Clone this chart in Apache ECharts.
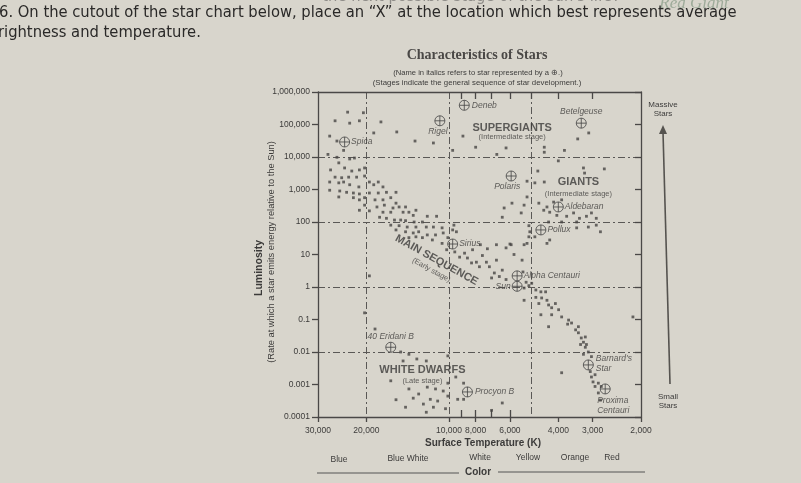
<!DOCTYPE html>
<html><head><meta charset="utf-8">
<script src="https://cdn.jsdelivr.net/npm/echarts@6/dist/echarts.min.js"></script>
<style>html,body{margin:0;padding:0;background:#d8d5cc;}#c{width:801px;height:483px;}</style>
</head><body><div id="c"></div>
<script>
// ---- axis ticks ----
const xLabelTemps = [30000, 20000, 10000, 8000, 6000, 4000, 3000, 2000];
const xInnerTicks = [9000, 8000, 7000, 6000];
const xTopTicks = [9000, 8000, 7000, 6000, 5000, 4000, 3000];
const xGridTemps = [20000, 10000, 5000];
const yTickLabels = ['0.0001','0.001','0.01','0.1','1','10','100','1,000','10,000','100,000','1,000,000'];
const colorNames = ['Blue','Blue White','White','Yellow','Orange','Red'];

// ---- stars: [surface temperature K, luminosity (Sun = 1)] ----
const supergiantDots = [[23400,240000],[20500,230000],[26000,130000],[23000,110000],[21200,130000],[17700,120000],
 [27200,44000],[25600,31000],[18800,55000],[15500,59000],[13300,31000],[11400,27000],[24200,16000],[9700,16000],
 [8900,44000],[8000,20000],[6200,19000],[4500,20000],[4500,14000],[3800,16000],[3400,36000],[3100,55000],[6700,12000],[4000,7600]];
const giantDots = [[4750,3700],[5200,1800],[4870,1600],[4500,1700],[3240,4600],[3210,3200],[2720,4300],[5200,590],
 [6300,270],[5900,380],[5460,190],[6400,140],[5330,330],[4710,380],[4400,290],[4520,230],[4300,200],[4160,410],
 [3890,480],[4050,160],[3730,150],[3520,190],[3350,130],[3160,150],[3030,190],[2910,130],[3430,100],[3890,100],
 [4340,100],[5120,77],[5080,50],[5120,35],[4870,35],[3430,66],[3110,70],[2910,80],[2810,50],[4300,28],[4400,22],
 [5200,22],[6000,21],[5330,20]];
const mainSequenceDots = [[27600,12000],[25600,9800],[23000,8700],[22100,9300],[25200,6600],[27000,4000],[24000,4600],
 [22600,3700],[21200,4000],[20300,4600],[26000,2400],[24600,2300],[23200,2400],[21700,2400],[20300,2600],[19500,1700],
 [18100,1700],[27200,1700],[25200,1600],[24200,1700],[23000,1400],[21300,1200],[18800,1400],[17400,1200],[27200,950],
 [25000,900],[23600,820],[22300,780],[21200,730],[19500,780],[18100,780],[16900,820],[15600,820],[25200,590],[22300,560],
 [21200,480],[20300,560],[18600,480],[17400,480],[16300,560],[15600,380],[20300,330],[18300,290],[17200,330],[16000,270],
 [15200,290],[14400,290],[21200,230],[19500,220],[17400,200],[16300,200],[14700,200],[14000,200],[13200,230],[13500,160],
 [12000,150],[11100,150],[17900,140],[16900,130],[15800,115],[15000,115],[14400,110],[13400,100],[12500,100],[16300,80],
 [15200,77],[14200,70],[13200,70],[12100,70],[11400,70],[10600,66],[15600,57],[14400,50],[13500,46],[12900,50],[12000,40],
 [11200,40],[10500,46],[10100,33],[13200,35],[12500,33],[11500,28],[14000,33],[9700,57],[9600,80],[9400,50],[10600,22],
 [10200,14],[9530,12],[9150,8.3],[8780,11],[8570,7.8],[8210,14],[8280,5.5],[7950,5.8],[7750,4.2],[7560,9.3],[7310,5.8],
 [7130,4.2],[6720,6.7],[6720,20],[6200,16],[5940,20],[5800,10],[5420,6.7],[6400,3.3],[6560,2.1],[7000,1.9],[6840,2.7],
 [6200,1.7],[5380,2.9],[7250,15],[7690,20],[5240,1.4],[5120,1.1],[5330,0.93],[5000,1.3],[4830,0.81],[4630,0.71],
 [4450,0.71],[5330,0.39],[4830,0.48],[4600,0.46],[4400,0.39],[4710,0.31],[4340,0.28],[4100,0.31],[4230,0.23],[3990,0.2],
 [4630,0.14],[4230,0.14],[3890,0.12],[3670,0.096],[3580,0.078],[3380,0.06],[4340,0.06],[3700,0.072],[3460,0.048],
 [3380,0.039],[3300,0.027],[3190,0.029],[3240,0.02],[3160,0.017],[3320,0.017],[3190,0.014],[3110,0.010],[3240,0.0085],
 [3030,0.0072],[3060,0.0025],[3030,0.0017],[2940,0.002],[2990,0.0012],[2860,0.0011],[2940,0.00087],[2790,0.00087],
 [2860,0.00055],[2810,0.00033],[3890,0.0023],[2140,0.12],[19500,2.2],[20300,0.16],[18600,0.051]];
const whiteDwarfDots = [[15000,0.010],[14000,0.0085],[13100,0.0061],[12100,0.0053],[10100,0.0076],[14700,0.0053],
 [16300,0.0013],[10100,0.0011],[9450,0.0017],[8850,0.0011],[14000,0.00073],[12000,0.00083],[11200,0.00073],[10500,0.00063],
 [12900,0.00051],[10100,0.00044],[15600,0.00034],[13500,0.00038],[11700,0.00035],[11000,0.00031],[9300,0.00035],
 [8850,0.00035],[14400,0.0002],[12400,0.00025],[11400,0.0002],[10300,0.00018],[12100,0.00014],[6400,0.00027],[7000,0.00016]];
const starNames = ['Deneb','Betelgeuse','Rigel','Spica','Polaris','Aldebaran','Pollux','Sirius','Alpha Centauri','Sun',
 '40 Eridani B','Procyon B',"Barnard's Star",'Proxima Centauri'];
const starTemps = [8800, 3300, 10800, 24000, 5940, 4000, 4630, 9700, 5650, 5650, 16300, 8570, 3110, 2700];
const starLums = [390000, 110000, 130000, 29000, 2600, 290, 57, 21, 2.2, 1.05, 0.014, 0.00059, 0.0040, 0.00073];
const regionNames = ['SUPERGIANTS','(Intermediate stage)','GIANTS','(Intermediate stage)','MAIN SEQUENCE','(Early stage)','WHITE DWARFS','(Late stage)'];

// ---- build ----
const lg = Math.log10;
const toPt = d => [lg(d[0]), lg(d[1])];
const INK = '#3c3b3a';
const SANS = 'Liberation Sans, Arial, sans-serif';

// label placements (style, not data)
const labelPlace = {
  'Deneb': {position:'right', distance:2},
  'Betelgeuse': {position:'top', distance:2},
  'Rigel': {position:'bottom', distance:1, offset:[-2,0]},
  'Spica': {position:'right', distance:1},
  'Polaris': {position:'bottom', distance:1, offset:[-4,0]},
  'Aldebaran': {position:'right', distance:1},
  'Pollux': {position:'right', distance:1},
  'Sirius': {position:'right', distance:1},
  'Alpha Centauri': {position:'right', distance:1},
  'Sun': {position:'left', distance:1},
  '40 Eridani B': {position:'top', distance:1},
  'Procyon B': {position:'right', distance:2},
  "Barnard's Star": {position:'right', distance:2, text:"Barnard's\nStar", align:'left', lineHeight:10, offset:[0,-1]},
  'Proxima Centauri': {position:'bottom', distance:1, text:'Proxima\nCentauri', align:'left', lineHeight:10, offset:[-8,0]}
};
const starData = starNames.map((n, i) => {
  const p = labelPlace[n] || {position:'right'};
  return {
    value: [lg(starTemps[i]), lg(starLums[i])],
    label: Object.assign({show:true, formatter: p.text || n}, p, {text: undefined})
  };
});

const regionPlace = [
  {t:5890, l:80000, big:true}, {t:5890, l:40000},
  {t:3380, l:1700, big:true}, {t:3380, l:730},
  {t:11100, l:6.7, big:true, rot:-29}, {t:11600, l:3.3, rot:-29},
  {t:12500, l:0.0028, big:true}, {t:12500, l:0.0013}
];
const regionData = regionNames.map((n, i) => {
  const p = regionPlace[i];
  return {
    value: [lg(p.t), lg(p.l)],
    label: {show:true, position:'inside', formatter:n, rotate:p.rot || 0,
      fontFamily:SANS, color:INK,
      fontSize: p.big ? 11 : 7.5, fontWeight: p.big ? 'bold' : 'normal'}
  };
});

const xMin = lg(2000), xMax = lg(30000);
const fmtT = v => Math.round(Math.pow(10, v)).toLocaleString('en-US');
const lineStyle = {color:'#4a4847', width:1.3};
const baseX = {type:'value', min:xMin, max:xMax, inverse:true, gridIndex:0,
  splitLine:{show:false}, axisLabel:{show:false}, axisTick:{show:false}, axisLine:{show:false, onZero:false}};

const dotSeries = (name, arr) => ({
  name, type:'scatter', data: arr.map(toPt), symbol:'rect', symbolSize:2.8,
  itemStyle:{color:'#474543'}, silent:true, z:3
});

const chart = echarts.init(document.getElementById('c'), null, {renderer:'canvas'});
const T = (text, x, y, o) => ({type:'text', x, y, rotation:(o && o.rot) || 0, silent:true,
  style:Object.assign({text, fill:INK, align:'center', verticalAlign:'middle', font:'9px ' + SANS}, o && o.style)});
const QFONT = '16.4px Liberation Sans Narrow, DejaVu Sans Condensed, sans-serif';

chart.setOption({
  animation:false,
  backgroundColor:'#d8d5cc',
  grid:{left:318, right:160, top:92, bottom:66, containLabel:false},
  xAxis:[
    Object.assign({}, baseX, {position:'bottom', axisLine:{show:true, onZero:false, lineStyle},
      axisTick:{show:true, customValues:xLabelTemps.map(lg), inside:false, length:5, lineStyle},
      axisLabel:{show:true, customValues:xLabelTemps.map(lg), formatter:fmtT, margin:9,
        fontSize:8.5, fontFamily:SANS, color:INK}}),
    Object.assign({}, baseX, {position:'bottom',
      axisTick:{show:true, customValues:xInnerTicks.map(lg), inside:true, length:7, lineStyle}}),
    Object.assign({}, baseX, {position:'top', axisLine:{show:true, onZero:false, lineStyle},
      axisTick:{show:true, customValues:xTopTicks.map(lg), inside:true, length:7, lineStyle}}),
    Object.assign({}, baseX, {position:'bottom',
      axisTick:{show:false, customValues:xGridTemps.map(lg)},
      splitLine:{show:true, lineStyle:{color:'#5a5856', width:1, type:[7,3,2,3]}}})
  ],
  yAxis:[
    {type:'value', min:-4, max:6, interval:1, position:'left',
      axisLine:{show:true, onZero:false, lineStyle}, axisTick:{show:true, inside:false, length:6, lineStyle},
      axisLabel:{margin:8, fontSize:8.5, fontFamily:SANS, color:INK, formatter:v => yTickLabels[Math.round(v) + 4]},
      splitLine:{show:false}},
    {type:'value', min:-4, max:6, interval:2, position:'left',
      axisLine:{show:false, onZero:false}, axisTick:{show:false}, axisLabel:{show:false},
      splitLine:{show:true, lineStyle:{color:'#5a5856', width:1, type:[7,3,2,3]}}},
    {type:'value', min:-4, max:6, interval:1, position:'right',
      axisLine:{show:true, onZero:false, lineStyle}, axisTick:{show:true, inside:true, length:6, lineStyle},
      axisLabel:{show:false}, splitLine:{show:false}}
  ],
  series:[
    dotSeries('Supergiants', supergiantDots),
    dotSeries('Giants', giantDots),
    dotSeries('Main sequence', mainSequenceDots),
    dotSeries('White dwarfs', whiteDwarfDots),
    {name:'Named stars', type:'scatter', data:starData, z:5, silent:true,
      symbol:'path://M10,0A10,10 0 1 1 -10,0A10,10 0 1 1 10,0ZM-10,0L10,0M0,-10L0,10',
      symbolSize:10, itemStyle:{color:'rgba(0,0,0,0)', borderColor:'#444', borderWidth:1},
      label:{fontFamily:SANS, fontStyle:'italic', fontSize:8.5, color:INK}},
    {name:'Regions', type:'scatter', data:regionData, symbolSize:0, z:6, silent:true}
  ],
  graphic:[
    T('the next possible stage of the sun\'s life?', 620, -3, {style:{align:'right', fill:'#8e8c88', font:QFONT}}),
    T('Red Giant', 694, 4, {style:{fill:'#9eab9a', font:'italic 17px Liberation Serif, serif'}}),
    T('6. On the cutout of the star chart below, place an \u201CX\u201D at the location which best represents average', -1, 13,
      {style:{align:'left', fill:'#2a2928', font:QFONT}}),
    T('rightness and temperature.', -2, 33, {style:{align:'left', fill:'#2a2928', font:QFONT}}),
    T('Characteristics of Stars', 477, 55, {style:{font:'bold 14px Liberation Serif, serif', fill:'#4a4846'}}),
    T('(Name in italics refers to star represented by a \u2295.)', 478, 73, {style:{font:'7.6px ' + SANS}}),
    T('(Stages indicate the general sequence of star development.)', 477, 83, {style:{font:'7.8px ' + SANS}}),
    T('Luminosity', 259, 268, {rot:Math.PI/2, style:{font:'bold 10.5px ' + SANS}}),
    T('(Rate at which a star emits energy relative to the Sun)', 271, 252, {rot:Math.PI/2, style:{font:'9.3px ' + SANS}}),
    T('Surface Temperature (K)', 483, 443, {style:{font:'bold 10px ' + SANS}}),
    T(colorNames[0], 339, 460, {style:{font:'8.5px ' + SANS}}),
    T(colorNames[1], 408, 459, {style:{font:'8.5px ' + SANS}}),
    T(colorNames[2], 480, 458, {style:{font:'8.5px ' + SANS}}),
    T(colorNames[3], 528, 458, {style:{font:'8.5px ' + SANS}}),
    T(colorNames[4], 575, 458, {style:{font:'8.5px ' + SANS}}),
    T(colorNames[5], 612, 458, {style:{font:'8.5px ' + SANS}}),
    T('Color', 478, 472, {style:{font:'bold 10px ' + SANS}}),
    {type:'line', silent:true, shape:{x1:317, y1:473, x2:459, y2:473}, style:{stroke:'#555', lineWidth:1}},
    {type:'line', silent:true, shape:{x1:498, y1:472, x2:645, y2:472}, style:{stroke:'#555', lineWidth:1}},
    T('Massive\nStars', 663, 109, {style:{font:'8px ' + SANS, lineHeight:9}}),
    {type:'line', silent:true, shape:{x1:670, y1:384, x2:663, y2:132}, style:{stroke:'#55534f', lineWidth:1.6}},
    {type:'polygon', silent:true, shape:{points:[[663,125],[659,134],[667,134]]}, style:{fill:'#55534f'}},
    T('Small\nStars', 668, 401, {style:{font:'8px ' + SANS, lineHeight:9}})
  ]
});
</script></body></html>
